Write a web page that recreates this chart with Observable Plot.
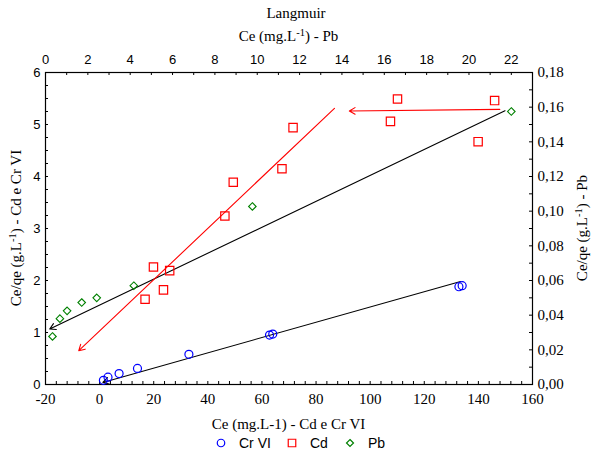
<!DOCTYPE html>
<html>
<head>
<meta charset="utf-8">
<script src="https://cdn.jsdelivr.net/npm/d3@7"></script>
<script src="https://cdn.jsdelivr.net/npm/@observablehq/plot@0.6"></script>
<style>
  html, body { margin: 0; padding: 0; background: #fff; }
  svg { display: block; }
</style>
</head>
<body>
<div id="chart"></div>
<script>
// ---- Data ----
// Cr VI : bottom axis (mg.L-1) vs left axis (g.L-1)
const crX = [1.4, 3.1, 7.2, 14, 33, 62.8, 64, 132.8, 134];
const crY = [0.08, 0.14, 0.21, 0.31, 0.58, 0.95, 0.97, 1.88, 1.90];
// Cd : bottom axis vs left axis
const cdX = [16.8, 19.9, 23.6, 25.9, 46.3, 49.4, 67.4, 71.5, 107.5, 110.1, 139.9, 146.0];
const cdY = [1.64, 2.26, 1.82, 2.19, 3.24, 3.89, 4.15, 4.94, 5.06, 5.49, 4.67, 5.46];
// Pb : top axis (mg.L-1) vs right axis (g.L-1)
const pbX = [0.33, 0.68, 1.02, 1.71, 2.42, 4.17, 9.77, 22.0];
const pbY = [0.0277, 0.038, 0.0425, 0.0473, 0.050, 0.057, 0.1027, 0.1575];
// Fitted lines (drawn as arrows, tip at the second point)
const crFit = {x1: 133.4, y1: 1.98, x2: 1.2, y2: 0.04};
const cdFit = {x1: 86.8, y1: 5.31, x2: -7.7, y2: 0.65};
const pbFit = {x1: 21.7, y1: 0.158, x2: 0.2, y2: 0.032}; // Pb units
const cdNote = {x1: 147.9, y1: 5.29, x2: 92.3, y2: 5.26};
// Axis ticks
const bottomTicks = [-20, 0, 20, 40, 60, 80, 100, 120, 140, 160];
const bottomMinor = d3.range(-20, 160.01, 4);
const topTicks = [0, 2, 4, 6, 8, 10, 12, 14, 16, 18, 20, 22];
const topMinor = d3.range(0, 23.01, 1);
const leftTicks = [0, 1, 2, 3, 4, 5, 6];
const leftMinor = d3.range(0, 6.001, 0.25);
const rightTicks = [0, 0.02, 0.04, 0.06, 0.08, 0.10, 0.12, 0.14, 0.16, 0.18];
const rightMinor = d3.range(0, 0.1801, 0.01);
const seriesNames = ["Cr VI", "Cd", "Pb"];
const seriesColors = ["#0000ff", "#ff0000", "#008000"];

// Secondary-axis conversions onto the primary scales
const topMax = 23, bottomMin = -20, bottomMax = 160, rightMax = 0.18, leftMax = 6;
const topToBottom = v => bottomMin + v * (bottomMax - bottomMin) / topMax;
const bottomToTop = v => (v - bottomMin) * topMax / (bottomMax - bottomMin);
const rightToLeft = v => v * leftMax / rightMax;
const leftToRight = v => v * rightMax / leftMax;

const cr = crX.map((x, i) => ({x, y: crY[i]}));
const cd = cdX.map((x, i) => ({x, y: cdY[i]}));
const pb = pbX.map((x, i) => ({x: topToBottom(x), y: rightToLeft(pbY[i])}));
const pbFitL = [{x1: topToBottom(pbFit.x1), y1: rightToLeft(pbFit.y1), x2: topToBottom(pbFit.x2), y2: rightToLeft(pbFit.y2)}];

const W = 592, H = 453;
const mL = 45, mR = 60, mT = 72, mB = 69;
const plotW = W - mL - mR, plotH = H - mT - mB;
const tk = 3;
const serif = "'Liberation Serif', 'Times New Roman', serif";
const sans = "'Liberation Sans', Arial, sans-serif";

const chart = Plot.plot({
  width: W,
  height: H,
  marginLeft: mL, marginRight: mR, marginTop: mT, marginBottom: mB,
  x: {domain: [bottomMin, bottomMax], axis: null},
  y: {domain: [0, leftMax], axis: null},
  style: {background: "#fff", overflow: "visible"},
  marks: [
    // inward ticks
    Plot.tickX(bottomMinor, {x: d => d, insetTop: plotH - tk, stroke: "#000"}),
    Plot.tickX(topMinor.map(topToBottom), {x: d => d, insetBottom: plotH - tk, stroke: "#000"}),
    Plot.tickY(leftMinor, {y: d => d, insetRight: plotW - tk, stroke: "#000"}),
    Plot.tickY(rightMinor.map(rightToLeft), {y: d => d, insetLeft: plotW - tk, stroke: "#000"}),
    // axes labels
    Plot.axisX(bottomTicks, {anchor: "bottom", tickSize: 0, tickPadding: 9, fontSize: 15, fontFamily: serif, fill: "#000", label: null,
      tickFormat: d => String(d).replace("-", "-")}),
    Plot.axisX(topTicks.map(topToBottom), {anchor: "top", tickSize: 0, tickPadding: 9, fontSize: 13, fontFamily: sans, fill: "#000", label: null,
      tickFormat: d => String(Math.round(bottomToTop(d)))}),
    Plot.axisY(leftTicks, {anchor: "left", tickSize: 0, tickPadding: 5, fontSize: 13, fontFamily: sans, fill: "#000", label: null,
      tickFormat: d => String(d)}),
    Plot.axisY(rightTicks.map(rightToLeft), {anchor: "right", tickSize: 0, tickPadding: 5, fontSize: 15, fontFamily: serif, fill: "#000", label: null,
      tickFormat: d => leftToRight(d).toFixed(2).replace(".", ",")}),
    Plot.frame({stroke: "#000", strokeWidth: 1.2}),
    // fit lines
    Plot.arrow([crFit], {x1: "x1", y1: "y1", x2: "x2", y2: "y2", stroke: "#000", strokeWidth: 1.1, headLength: 9}),
    Plot.arrow(pbFitL, {x1: "x1", y1: "y1", x2: "x2", y2: "y2", stroke: "#000", strokeWidth: 1.1, headLength: 9}),
    Plot.arrow([cdFit], {x1: "x1", y1: "y1", x2: "x2", y2: "y2", stroke: "#ff0000", strokeWidth: 1.1, headLength: 9}),
    Plot.arrow([cdNote], {x1: "x1", y1: "y1", x2: "x2", y2: "y2", stroke: "#ff0000", strokeWidth: 1.1, headLength: 9}),
    // points
    Plot.dot(cr, {x: "x", y: "y", r: 4, symbol: "circle", stroke: seriesColors[0], strokeWidth: 1.2, fill: "none"}),
    Plot.dot(cd, {x: "x", y: "y", r: 4.7, symbol: "square", stroke: seriesColors[1], strokeWidth: 1.2, fill: "none"}),
    Plot.dot(pb, {x: "x", y: "y", r: 3.4, symbol: "diamond2", stroke: seriesColors[2], strokeWidth: 1.1, fill: "none"})
  ]
});

document.getElementById("chart").appendChild(chart);

// Titles with superscripts
const svg = d3.select(chart);
function supText(sel, parts) {
  parts.forEach(p => {
    const t = sel.append("tspan").text(p.t);
    if (p.sup) t.attr("dy", -5).attr("font-size", "0.7em");
    else if (p.after) t.attr("dy", 5);
  });
}
const cx = mL + plotW / 2;
svg.append("text").attr("x", 296).attr("y", 18).attr("text-anchor", "middle")
  .attr("font-family", serif).attr("font-size", 15).text("Langmuir");
supText(svg.append("text").attr("x", cx).attr("y", 41).attr("text-anchor", "middle")
  .attr("font-family", serif).attr("font-size", 15),
  [{t: "Ce (mg.L"}, {t: "-1", sup: true}, {t: ") - Pb", after: true}]);
svg.append("text").attr("x", cx).attr("y", 429).attr("text-anchor", "middle")
  .attr("font-family", serif).attr("font-size", 15).text("Ce (mg.L-1) - Cd e Cr VI");
supText(svg.append("text").attr("transform", `translate(21,${mT + plotH / 2}) rotate(-90)`).attr("text-anchor", "middle")
  .attr("font-family", serif).attr("font-size", 15),
  [{t: "Ce/qe (g.L"}, {t: "-1", sup: true}, {t: ") - Cd e Cr VI", after: true}]);
supText(svg.append("text").attr("transform", `translate(587,${mT + plotH / 2}) rotate(-90)`).attr("text-anchor", "middle")
  .attr("font-family", serif).attr("font-size", 15),
  [{t: "Ce/qe (g.L"}, {t: "-1", sup: true}, {t: ") - Pb", after: true}]);

// Legend
const legX = [221, 292, 350];
const legSym = [d3.symbolCircle, d3.symbolSquare, d3.symbolDiamond2];
const legSize = [Math.PI * 14, Math.PI * 18, Math.PI * 10];
const leg = svg.append("g").attr("text-anchor", "start");
seriesNames.forEach((name, i) => {
  leg.append("path").attr("d", d3.symbol(legSym[i], legSize[i])())
    .attr("transform", `translate(${legX[i]},443)`)
    .attr("fill", "none").attr("stroke", seriesColors[i]).attr("stroke-width", 1.2);
  leg.append("text").attr("x", legX[i] + 18).attr("y", 448).attr("text-anchor", "start")
    .attr("font-family", sans).attr("font-size", 14).text(name);
});
</script>
</body>
</html>
